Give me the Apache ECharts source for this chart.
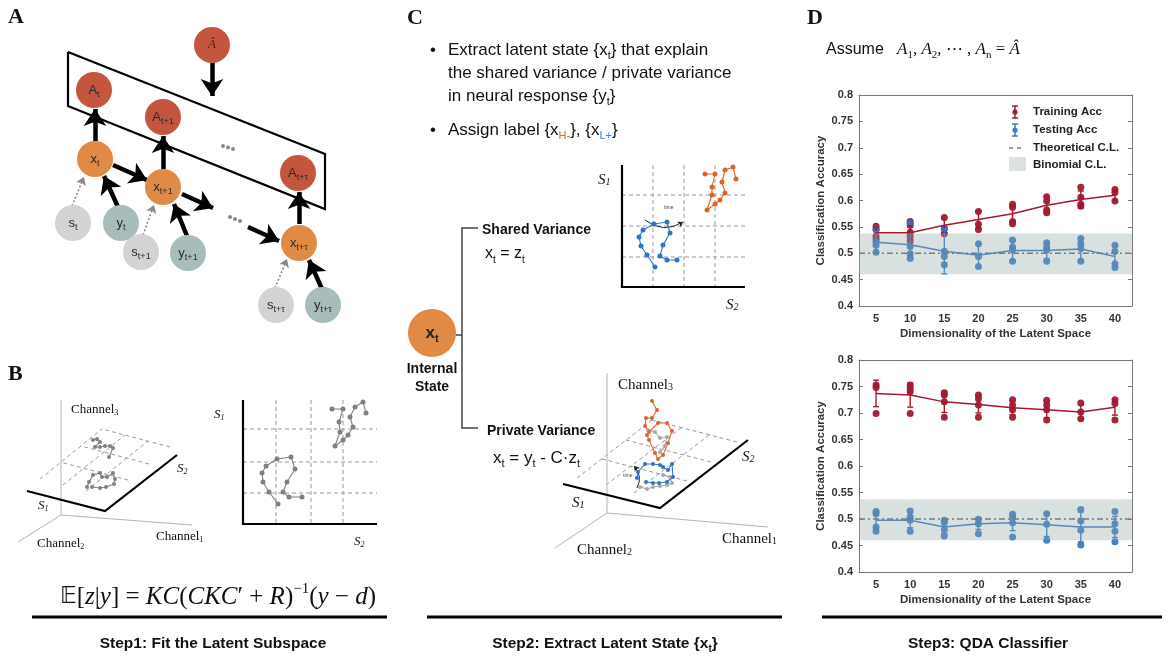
<!DOCTYPE html>
<html><head><meta charset="utf-8">
<script src="https://cdn.jsdelivr.net/npm/echarts@6/dist/echarts.min.js"></script>
<style>html,body{margin:0;padding:0;background:#fff}#c{width:1172px;height:659px}</style>
</head><body><div id="c"></div><script>
// ---------------- Panel D data ----------------
const dims = ['5','10','15','20','25','30','35','40'];
const trainMeanTop = [0.539,0.539,0.553,0.564,0.575,0.591,0.602,0.610];
const trainErrTop  = [0.010,0.013,0.014,0.016,0.017,0.015,0.016,0.010];
const trainPtsTop  = [[0.551,0.545,0.532,0.526],[0.560,0.553,0.540,0.532,0.523],[0.568,0.547,0.537],[0.579,0.555,0.545],[0.593,0.587,0.560,0.556],[0.607,0.599,0.582,0.577],[0.625,0.606,0.593,0.589],[0.621,0.615,0.599]];
const testMeanTop  = [0.521,0.516,0.504,0.496,0.505,0.505,0.508,0.494];
const testErrTop   = [0.020,0.022,0.043,0.022,0.018,0.015,0.020,0.020];
const testPtsTop   = [[0.545,0.521,0.515,0.502],[0.557,0.513,0.499,0.490],[0.547,0.504,0.494,0.478],[0.518,0.494,0.475],[0.525,0.512,0.506,0.485],[0.520,0.512,0.506,0.485],[0.528,0.518,0.509,0.485],[0.515,0.504,0.480,0.473]];
const trainMeanBot = [0.737,0.734,0.721,0.716,0.710,0.706,0.702,0.711];
const trainErrBot  = [0.025,0.023,0.020,0.016,0.013,0.015,0.013,0.015];
const trainPtsBot  = [[0.753,0.748,0.699],[0.753,0.746,0.740,0.699],[0.738,0.734,0.721,0.692],[0.734,0.727,0.715,0.692],[0.725,0.715,0.706,0.692],[0.724,0.715,0.706,0.687],[0.719,0.702,0.689],[0.725,0.718,0.687]];
const testMeanBot  = [0.4975,0.4975,0.485,0.491,0.493,0.489,0.485,0.485];
const testErrBot   = [0.014,0.014,0.012,0.011,0.015,0.022,0.028,0.020];
const testPtsBot   = [[0.514,0.510,0.485,0.477],[0.515,0.504,0.4975,0.477],[0.4975,0.493,0.480,0.468],[0.4995,0.491,0.472],[0.509,0.504,0.493,0.466],[0.510,0.490,0.460],[0.518,0.496,0.479,0.451],[0.514,0.491,0.477,0.457]];
const binomialCL = [0.46, 0.5375];
const theoreticalCL = 0.5;
const yTicks = {min:0.4, max:0.8, interval:0.05};

// ---------------- Diagram data (A, B, C) ----------------
const nodesA = [
 {t:'Â',k:'A',value:[212,45]},{t:'A|t',k:'A',value:[94,90]},{t:'A|t+1',k:'A',value:[163,117]},{t:'A|t+τ',k:'A',value:[298,173]},
 {t:'x|t',k:'x',value:[95,159]},{t:'x|t+1',k:'x',value:[163,187]},{t:'x|t+τ',k:'x',value:[299,243]},
 {t:'s|t',k:'s',value:[73,223]},{t:'y|t',k:'y',value:[121,223]},{t:'s|t+1',k:'s',value:[141,252]},
 {t:'y|t+1',k:'y',value:[188,253]},{t:'s|t+τ',k:'s',value:[276,305]},{t:'y|t+τ',k:'y',value:[323,305]}
];
const plateA = [[68,52],[325,154],[325,209],[68,106],[68,52]];
const thickArrowsA = [[[212,63],[212,96]],[[95,141],[95,109]],[[163,169],[163,136]],[[299,224],[299,192]],
 [[113,165],[147,180]],[[182,194],[213,208]],[[248,227],[279,241]],[[118,207],[104,176]],[[187,236],[174,204]],[[322,289],[309,260]]];
const dottedArrowsA = [[[72,206],[84,177]],[[143,235],[154,205]],[[275,288],[287,259]]];
const dotsA = [[223,146],[228,147.5],[233,149],[230,217],[235,219],[240,221]];

const b2dA = [[278,504],[269,492],[263,482],[262,473],[266,466],[277,459],[291,457],[295,469],[287,482],[283,492],[289,497],[302,497]];
const b2dB = [[332,409],[343,409],[339,422],[340,432],[335,446],[343,440],[348,435],[353,427],[350,417],[355,407],[363,402],[366,413]];
const b3dA = [[87,487],[89,482],[93,475],[100,473],[102,477],[107,477],[113,473],[115,479],[114,484],[106,487],[100,488],[92,487]];
const b3dB = [[93,440],[97,439],[100,442],[95,447],[100,447],[105,446],[110,446],[113,448],[109,457]];
const c2dBlue = [[655,267],[647,255],[641,246],[639,237],[643,230],[654,224],[667,222],[670,233],[663,245],[660,256],[667,260],[677,260]];
const c2dOrange = [[705,174],[715,174],[712,187],[712,195],[707,210],[715,204],[720,200],[725,193],[722,182],[725,170],[733,167],[736,179]];
const c3dBlue = [[637,478],[638,472],[645,464],[653,464],[660,465],[663,467],[668,470],[672,464],[673,477],[667,482],[659,483],[653,483],[646,482]];
const c3dOrange = [[652,401],[657,410],[652,418],[646,418],[645,426],[649,432],[658,423],[667,423],[672,431],[668,443],[663,455],[658,459],[655,453],[649,440],[647,435]];
const c3dGreyLow = [[640,487],[647,489],[653,487],[660,486],[667,485],[672,483],[670,477],[663,475]];
const c3dGreyHigh = [[648,430],[655,432],[660,438],[667,437],[665,446],[660,452]];

const blackAxes = [[[243,400],[243,524],[377,524]],[[622,165],[622,287],[745,287]],[[27,491],[105,511],[177,455]],[[563,484],[660,508],[748,440]]];
const thinAxes = [[[61,400],[61,515]],[[61,515],[192,525]],[[61,515],[18,542]],[[607,373],[607,513]],[[607,513],[768,527]],[[607,513],[555,548]]];
const dashGrid = [
 [[276,400],[276,524]],[[311,400],[311,524]],[[343,400],[343,524]],[[243,429],[377,429]],[[243,462],[377,462]],[[243,493],[377,493]],
 [[653,165],[653,287]],[[684,165],[684,287]],[[715,165],[715,287]],[[622,195],[745,195]],[[622,226],[745,226]],[[622,257],[745,257]],
 [[128,480],[60,462]],[[149,464],[81,446]],[[170,447],[102,429]],[[86,491],[148,441]],[[63,485],[125,435]],[[40,479],[102,429]],
 [[687,481],[602,459]],[[711,462],[626,440]],[[737,442],[652,420]],[[634,493],[709,435]],[[606,485],[681,428]],[[577,478],[652,420]]
];
const bracketC = [[[478,228],[462,228],[462,428],[478,428]],[[456,335],[462,335]]];
const timeArrows = [[[645,220],[683,222]],[[637,488],[634,466]]];
const nodeC = [{t:'x|t',value:[432,333]}];

// ---------------- styles ----------------
const FS = 'Liberation Sans, Arial, Helvetica, sans-serif';
const SERIF = 'Liberation Serif, DejaVu Serif, Times New Roman, serif';
const RED = '#A3192F', BLUE = '#3A7CC3', BAND = 'rgba(143,166,166,0.35)';
const nodeColor = {A:'#C4553E', x:'#E08A46', s:'#D3D3D3', y:'#A8BCBC'};

function T(x, y, text, o) {
  return {type:'text', x:x, y:y, z:100, silent:true,
    style:Object.assign({text:text, fill:'#111', fontSize:14, fontFamily:FS, align:'left', verticalAlign:'middle'}, o||{})};
}
const subRich = function(size, color){
  return {n:{fontSize:size, fontFamily:FS, fill:color||'#111', lineHeight:size+6},
          s:{fontSize:Math.round(size*0.62), fontFamily:FS, fill:color||'#111', lineHeight:Math.round(size*0.6), verticalAlign:'bottom'},
          h:{fontSize:Math.round(size*0.62), fontFamily:FS, fill:'#E0622A', lineHeight:Math.round(size*0.6), verticalAlign:'bottom'},
          l:{fontSize:Math.round(size*0.62), fontFamily:FS, fill:'#3A7FD0', lineHeight:Math.round(size*0.6), verticalAlign:'bottom'}};
};

// ---------------- D chart helpers ----------------
function flatPts(pts){ const out=[]; pts.forEach((a,i)=>a.forEach(v=>out.push([i,v]))); return out; }
function errData(mean, err){ return mean.map((m,i)=>[i, m-err[i], m+err[i]]); }
function errSeries(xi, yi, data, color){
  return {type:'custom', xAxisIndex:xi, yAxisIndex:yi, z:3, silent:true, data:data,
    encode:{x:0, y:[1,2]},
    renderItem:function(params, api){
      const x=api.value(0), lo=api.value(1), hi=api.value(2);
      const p1=api.coord([x,hi]), p2=api.coord([x,lo]); const c=3;
      const st={stroke:color, lineWidth:1.4};
      return {type:'group', children:[
        {type:'line', shape:{x1:p1[0],y1:p1[1],x2:p2[0],y2:p2[1]}, style:st},
        {type:'line', shape:{x1:p1[0]-c,y1:p1[1],x2:p1[0]+c,y2:p1[1]}, style:st},
        {type:'line', shape:{x1:p2[0]-c,y1:p2[1],x2:p2[0]+c,y2:p2[1]}, style:st}]};
    }};
}
function bandSeries(xi, yi){
  return {type:'custom', xAxisIndex:xi, yAxisIndex:yi, z:5, silent:true, data:[[0, binomialCL[0], binomialCL[1]]],
    encode:{x:0, y:[1,2]},
    renderItem:function(params, api){
      const cs=params.coordSys; const yt=api.coord([0, api.value(2)])[1], yb=api.coord([0, api.value(1)])[1];
      return {type:'rect', shape:{x:cs.x, y:yt, width:cs.width, height:yb-yt}, style:{fill:BAND}};
    }};
}
function chanceSeries(xi, yi){
  return {type:'custom', xAxisIndex:xi, yAxisIndex:yi, z:6, silent:true, data:[[0, theoreticalCL]],
    renderItem:function(params, api){
      const cs=params.coordSys; const y=api.coord([0, api.value(1)])[1];
      return {type:'line', shape:{x1:cs.x, y1:y, x2:cs.x+cs.width, y2:y}, style:{stroke:'#7a7a7a', lineWidth:1.4, lineDash:[6,3,2,3]}};
    }};
}
function chartSeries(xi, yi, trM, trE, trP, teM, teE, teP){
  return [
    {type:'scatter', xAxisIndex:xi, yAxisIndex:yi, z:2, data:flatPts(trP), symbolSize:7, itemStyle:{color:RED, opacity:0.95}, silent:true},
    {type:'scatter', xAxisIndex:xi, yAxisIndex:yi, z:2, data:flatPts(teP), symbolSize:7, itemStyle:{color:'#2F72C0', opacity:0.9}, silent:true},
    {type:'line', xAxisIndex:xi, yAxisIndex:yi, z:3, data:trM, symbol:'none', lineStyle:{color:RED, width:1.5}, silent:true},
    {type:'line', xAxisIndex:xi, yAxisIndex:yi, z:3, data:teM, symbol:'none', lineStyle:{color:BLUE, width:1.5}, silent:true},
    errSeries(xi, yi, errData(trM, trE), RED),
    errSeries(xi, yi, errData(teM, teE), BLUE),
    bandSeries(xi, yi),
    chanceSeries(xi, yi)
  ];
}
const axisFont = {fontFamily:FS, fontWeight:'bold', fontSize:11, color:'#333'};
function xAxes(gi){
  return [
    {type:'category', gridIndex:gi, data:dims, boundaryGap:true, position:'bottom',
     axisLine:{lineStyle:{color:'#777'}}, axisTick:{inside:true, alignWithLabel:true, length:4, lineStyle:{color:'#777'}},
     axisLabel:Object.assign({margin:7}, axisFont), name:'Dimensionality of the Latent Space', nameLocation:'middle', nameGap:22,
     nameTextStyle:{fontFamily:FS, fontWeight:'bold', fontSize:11.5, color:'#333'}},
    {type:'category', gridIndex:gi, data:dims, boundaryGap:true, position:'top',
     axisLine:{lineStyle:{color:'#777'}}, axisTick:{inside:true, alignWithLabel:true, length:4, lineStyle:{color:'#777'}}, axisLabel:{show:false}}
  ];
}
function yAxes(gi){
  return [
    {type:'value', gridIndex:gi, min:yTicks.min, max:yTicks.max, interval:yTicks.interval, position:'left',
     axisLine:{show:true, lineStyle:{color:'#777'}}, axisTick:{show:true, inside:true, length:4, lineStyle:{color:'#777'}},
     splitLine:{show:false}, axisLabel:Object.assign({margin:6}, axisFont),
     name:'Classification Accuracy', nameLocation:'middle', nameGap:32, nameRotate:90,
     nameTextStyle:{fontFamily:FS, fontWeight:'bold', fontSize:11.5, color:'#333'}},
    {type:'value', gridIndex:gi, min:yTicks.min, max:yTicks.max, interval:yTicks.interval, position:'right',
     axisLine:{show:true, lineStyle:{color:'#777'}}, axisTick:{show:true, inside:true, length:4, lineStyle:{color:'#777'}},
     splitLine:{show:false}, axisLabel:{show:false}}
  ];
}

// ---------------- diagram series ----------------
const D = {xAxisIndex:0, yAxisIndex:0, silent:true};
function linesS(data, style, extra){ return Object.assign({type:'lines', coordinateSystem:'cartesian2d', polyline:true, data:data.map(c=>({coords:c})), lineStyle:Object.assign({opacity:1}, style), symbol:'none', z:1}, D, extra||{}); }
function traj(data, color, size){ return Object.assign({type:'line', data:data, symbol:'circle', symbolSize:size||5, showSymbol:true, showAllSymbol:true, lineStyle:{color:color, width:1.1}, itemStyle:{color:color, opacity:1}, z:4}, D); }
const nodeLabel = function(p){ const a=p.data.t.split('|'); return a.length>1 ? '{n|'+a[0]+'}{s|'+a[1]+'}' : '{h|'+a[0]+'}'; };

const diagramSeries = [
  linesS(dashGrid, {color:'#9a9a9a', width:1, type:[4,3]}),
  linesS(thinAxes, {color:'#b5b5b5', width:1}),
  linesS(blackAxes, {color:'#000', width:2.2}),
  linesS([plateA], {color:'#000', width:2.2}),
  linesS(bracketC, {color:'#444', width:1.5}),
  Object.assign({type:'lines', coordinateSystem:'cartesian2d', data:thickArrowsA.map(c=>({coords:c})), symbol:['none','arrow'], symbolSize:17, lineStyle:{color:'#000', width:4.5, opacity:1}, z:2}, D),
  Object.assign({type:'lines', coordinateSystem:'cartesian2d', data:dottedArrowsA.map(c=>({coords:c})), symbol:['none','arrow'], symbolSize:8, lineStyle:{color:'#888', width:1.6, type:[2,2], opacity:1}, z:2}, D),
  Object.assign({type:'lines', coordinateSystem:'cartesian2d', data:timeArrows.map(c=>({coords:c})), symbol:['none','arrow'], symbolSize:5, lineStyle:{color:'#222', width:1, curveness:-0.35, opacity:1}, z:2}, D),
  Object.assign({type:'scatter', data:dotsA, symbolSize:4, itemStyle:{color:'#888', opacity:1}, z:2}, D),
  Object.assign({type:'scatter', data:nodesA, symbolSize:36, z:5,
    itemStyle:{opacity:1, color:function(p){return nodeColor[p.data.k];}},
    label:{show:true, position:'inside', formatter:nodeLabel,
      rich:{n:{fontSize:13, fontFamily:FS, color:'#2a2a2a', lineHeight:18},
            s:{fontSize:9, fontFamily:FS, color:'#2a2a2a', lineHeight:9, verticalAlign:'bottom'},
            h:{fontSize:13, fontFamily:SERIF, fontStyle:'italic', color:'#5b2214'}}}}, D),
  Object.assign({type:'scatter', data:nodeC, symbolSize:48, z:5, itemStyle:{color:nodeColor.x, opacity:1},
    label:{show:true, position:'inside', formatter:nodeLabel,
      rich:{n:{fontSize:17, fontFamily:FS, fontWeight:'bold', color:'#222', lineHeight:22},
            s:{fontSize:11, fontFamily:FS, fontWeight:'bold', color:'#222', lineHeight:11, verticalAlign:'bottom'}}}}, D),
  traj(b2dA, '#808080'), traj(b2dB, '#808080'), traj(b3dA, '#808080', 4), traj(b3dB, '#808080', 4),
  traj(c2dBlue, '#2E74C9'), traj(c2dOrange, '#E0622A'),
  traj(c3dGreyLow, '#a8a8a8', 4), traj(c3dGreyHigh, '#a8a8a8', 4),
  traj(c3dBlue, '#2E74C9', 4), traj(c3dOrange, '#E0622A', 4)
];

// ---------------- text / annotations ----------------
const serifI = {fontFamily:SERIF, fontStyle:'italic', fontSize:15};
const chan = function(sz){ return {fontFamily:SERIF, fontSize:sz, rich:{n:{fontFamily:SERIF, fontSize:sz, fill:'#111'}, s:{fontFamily:SERIF, fontSize:Math.round(sz*0.65), fill:'#111', verticalAlign:'bottom', lineHeight:Math.round(sz*0.6)}}}; };
const sLab = function(sz){ return Object.assign({}, serifI, {fontSize:sz, rich:{s:{fontFamily:SERIF, fontStyle:'italic', fontSize:Math.round(sz*0.65), verticalAlign:'bottom', lineHeight:8, fill:'#111'}}}); };
const bulletRich = subRich(17);
const graphics = [
  T(8,17,'A',{fontFamily:SERIF, fontWeight:'bold', fontSize:22}),
  T(8,374,'B',{fontFamily:SERIF, fontWeight:'bold', fontSize:22}),
  T(407,18,'C',{fontFamily:SERIF, fontWeight:'bold', fontSize:22}),
  T(807,18,'D',{fontFamily:SERIF, fontWeight:'bold', fontSize:22}),
  // Panel B labels
  T(71,410,'{n|Channel}{s|3}',chan(13)), T(37,544,'{n|Channel}{s|2}',chan(13)), T(156,537,'{n|Channel}{s|1}',chan(13)),
  T(38,506,'S{s|1}',sLab(13)), T(177,469,'S{s|2}',sLab(13)), T(214,415,'S{s|1}',sLab(13)), T(354,542,'S{s|2}',sLab(13)),
  T(218,597,'{e|𝔼}{r|[}{i|z}{r||}{i|y}{r|] = }{i|KC}{r|(}{i|CKC}{r|′ + }{i|R}{r|)}{p|−1}{r|(}{i|y}{r| − }{i|d}{r|)}',{align:'center', rich:{
     e:{fontFamily:'DejaVu Sans, serif', fontSize:23, fill:'#111', lineHeight:30},
     i:{fontFamily:SERIF, fontStyle:'italic', fontSize:25, fill:'#111', lineHeight:30},
     r:{fontFamily:SERIF, fontSize:25, fill:'#111', lineHeight:30},
     p:{fontFamily:SERIF, fontSize:15, fill:'#111', verticalAlign:'top', lineHeight:17}}}),
  T(213,644,'Step1: Fit the Latent Subspace',{align:'center', fontWeight:'bold', fontSize:15.5}),
  // Panel C text
  T(430,50,'•',{fontSize:17}), T(430,130,'•',{fontSize:17}),
  T(448,50,'{n|Extract latent state {x}{s|t}} that explain',{fontSize:17, rich:bulletRich}),
  T(448,73,'the shared variance / private variance',{fontSize:17}),
  T(448,96,'{n|in neural response {y}{s|t}}',{fontSize:17, rich:bulletRich}),
  T(448,130,'{n|Assign label {x}{h|H-}}, {x{l|L+}}',{fontSize:17, rich:bulletRich}),
  T(598,180,'S{s|1}',sLab(15)), T(726,305,'S{s|2}',sLab(15)),
  T(664,208,'time',{fontSize:5, fill:'#444', rotation:-0.35}),
  T(623,476,'time',{fontSize:5, fill:'#444', rotation:-1.2}),
  T(482,230,'Shared Variance',{fontWeight:'bold', fontSize:14}),
  T(485,254,'{n|x}{s|t}{n| = z}{s|t}',{fontSize:16, rich:subRich(16)}),
  T(432,369,'Internal',{fontWeight:'bold', fontSize:14, align:'center'}),
  T(432,387,'State',{fontWeight:'bold', fontSize:14, align:'center'}),
  T(487,431,'Private Variance',{fontWeight:'bold', fontSize:14}),
  T(493,458,'{n|x}{s|t}{n| = y}{s|t}{n| - C·z}{s|t}',{fontSize:17, rich:subRich(17)}),
  T(618,385,'{n|Channel}{s|3}',chan(15)), T(577,550,'{n|Channel}{s|2}',chan(15)), T(722,539,'{n|Channel}{s|1}',chan(15)),
  T(572,503,'S{s|1}',sLab(15)), T(742,457,'S{s|2}',sLab(15)),
  T(605,644,'{n|Step2: Extract Latent State {x}{s|t}}',{align:'center', fontWeight:'bold', fontSize:15.5, rich:{
     n:{fontFamily:FS, fontWeight:'bold', fontSize:15.5, fill:'#111', lineHeight:20},
     s:{fontFamily:FS, fontWeight:'bold', fontSize:10, fill:'#111', lineHeight:9, verticalAlign:'bottom'}}}),
  // Panel D text
  T(826,50,'Assume',{fontSize:16}),
  T(897,50,'{i|A}{s|1}{c|, }{i|A}{s|2}{c|, ⋯ , }{i|A}{s|n}{c| = }{i|Â}',{rich:{
     i:{fontFamily:SERIF, fontStyle:'italic', fontSize:17, fill:'#111', lineHeight:22},
     c:{fontFamily:SERIF, fontSize:17, fill:'#111', lineHeight:22},
     s:{fontFamily:SERIF, fontSize:11, fill:'#111', lineHeight:10, verticalAlign:'bottom'}}}),
  T(988,644,'Step3: QDA Classifier',{align:'center', fontWeight:'bold', fontSize:15.5}),
  // legend (top D chart)
  {type:'group', z:100, silent:true, children:[
    {type:'line', shape:{x1:1015,y1:106,x2:1015,y2:118}, style:{stroke:RED, lineWidth:1.5}},
    {type:'line', shape:{x1:1012,y1:106,x2:1018,y2:106}, style:{stroke:RED, lineWidth:1.5}},
    {type:'line', shape:{x1:1012,y1:118,x2:1018,y2:118}, style:{stroke:RED, lineWidth:1.5}},
    {type:'circle', shape:{cx:1015,cy:112,r:2.6}, style:{fill:RED}},
    {type:'line', shape:{x1:1015,y1:124,x2:1015,y2:136}, style:{stroke:BLUE, lineWidth:1.5}},
    {type:'line', shape:{x1:1012,y1:124,x2:1018,y2:124}, style:{stroke:BLUE, lineWidth:1.5}},
    {type:'line', shape:{x1:1012,y1:136,x2:1018,y2:136}, style:{stroke:BLUE, lineWidth:1.5}},
    {type:'circle', shape:{cx:1015,cy:130,r:2.6}, style:{fill:BLUE}},
    {type:'line', shape:{x1:1009,y1:148,x2:1022,y2:148}, style:{stroke:'#7a7a7a', lineWidth:1.5, lineDash:[4,4]}},
    {type:'rect', shape:{x:1009,y:157,width:17,height:14}, style:{fill:'#D9E1E1'}}
  ]},
  T(1033,112,'Training Acc',{fontWeight:'bold', fontSize:11.5, fill:'#222'}),
  T(1033,130,'Testing Acc',{fontWeight:'bold', fontSize:11.5, fill:'#222'}),
  T(1033,148,'Theoretical C.L.',{fontWeight:'bold', fontSize:11.5, fill:'#222'}),
  T(1033,165,'Binomial C.L.',{fontWeight:'bold', fontSize:11.5, fill:'#222'}),
  // caption rules
  {type:'rect', shape:{x:32,y:615.5,width:355,height:3}, style:{fill:'#000'}, z:100},
  {type:'rect', shape:{x:427,y:615.5,width:355,height:3}, style:{fill:'#000'}, z:100},
  {type:'rect', shape:{x:822,y:615.5,width:340,height:3}, style:{fill:'#000'}, z:100}
];

const xa = xAxes(1), xb = xAxes(2), ya = yAxes(1), yb = yAxes(2);
const option = {
  animation:false,
  backgroundColor:'#fff',
  grid:[{left:0, top:0, width:1172, height:659},
        {left:859, top:95, width:273, height:211},
        {left:859, top:360, width:273, height:212}],
  xAxis:[{type:'value', gridIndex:0, min:0, max:1172, show:false}, xa[0], xa[1], xb[0], xb[1]],
  yAxis:[{type:'value', gridIndex:0, min:0, max:659, inverse:true, show:false}, ya[0], ya[1], yb[0], yb[1]],
  series: diagramSeries
    .concat(chartSeries(1, 1, trainMeanTop, trainErrTop, trainPtsTop, testMeanTop, testErrTop, testPtsTop))
    .concat(chartSeries(3, 3, trainMeanBot, trainErrBot, trainPtsBot, testMeanBot, testErrBot, testPtsBot)),
  graphic: graphics
};
const chart = echarts.init(document.getElementById('c'), null, {renderer:'canvas'});
chart.setOption(option);
</script></body></html>
